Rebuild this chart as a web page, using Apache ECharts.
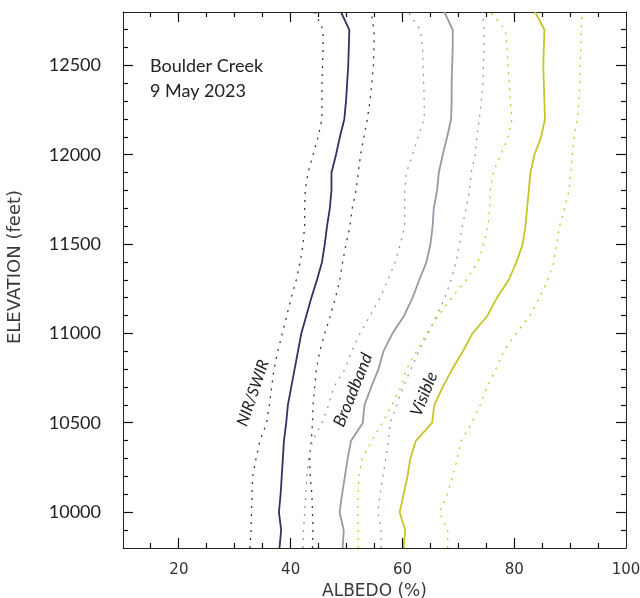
<!DOCTYPE html>
<html><head><meta charset="utf-8">
<script src="https://cdn.jsdelivr.net/npm/echarts@6/dist/echarts.min.js"></script>
<style>html,body{margin:0;padding:0;background:#fff}#c{width:640px;height:598px}</style>
</head><body><div id="c"></div>
<script>
// Elevation bands (feet), bottom to top
const elevations = [9800,9900,10000,10100,10200,10300,10400,10500,10600,10700,10800,10900,11000,11100,11200,11300,11400,11500,11600,11700,11800,11900,12000,12100,12200,12300,12400,12500,12600,12700,12800];
// NIR/SWIR albedo (%)
const nirMean = [38.0,38.3,37.9,38.2,38.4,38.6,38.8,39.2,39.5,40.1,40.7,41.3,41.9,42.8,43.7,44.7,45.6,46.1,46.5,47.0,47.3,47.3,48.1,48.8,49.6,49.9,50.1,50.3,50.4,50.5,49.0];
const nirLow  = [32.7,32.9,33.0,33.1,33.2,33.8,34.5,35.7,36.2,36.6,37.0,37.7,38.5,39.3,40.1,41.0,41.7,42.2,42.5,42.5,42.6,43.1,44.0,44.9,45.6,45.6,45.6,45.7,45.8,45.8,44.3];
const nirHigh = [43.9,44.0,43.9,43.8,43.5,43.4,43.7,43.9,44.0,44.3,44.6,45.2,46.1,47.1,48.0,48.8,49.3,49.9,50.6,51.0,51.7,52.1,52.5,53.1,53.7,54.2,54.5,54.8,54.9,54.9,54.4];
// Broadband albedo (%)
const bbMean = [49.3,49.5,48.75,49.2,49.7,50.2,50.8,52.9,53.2,54.4,55.7,56.6,58.2,60.3,61.8,63.0,64.3,65.0,65.4,65.6,66.2,66.5,67.2,68.0,68.7,68.8,68.8,68.9,69.0,69.0,67.5];
const bbLow  = [42.2,42.3,42.5,42.7,42.9,43.2,43.9,45.6,46.8,47.7,49.7,50.9,52.4,54.2,56.0,57.4,58.7,59.6,60.4,60.4,60.4,60.7,61.8,62.8,63.9,63.9,63.8,63.7,63.6,63.2,61.0];
const bbHigh = [56.2,56.2,55.6,56.0,56.5,57.0,57.5,57.8,59.0,60.1,61.5,62.9,64.6,66.1,67.6,68.7,69.6,70.2,70.7,71.4,72.0,72.3,73.0,73.3,73.75,74.1,74.4,74.5,74.6,74.6,74.3];
// Visible albedo (%)
const visMean = [60.2,60.5,59.5,60.2,60.9,61.4,62.4,65.3,65.7,67.2,68.9,70.8,72.5,75.2,76.9,79.0,80.4,81.5,82.0,82.3,82.6,82.9,83.6,84.8,85.5,85.4,85.3,85.2,85.3,85.4,83.75];
const visLow  = [52.1,52.1,52.0,52.1,52.2,52.8,54.5,56.4,58.1,59.7,60.7,62.5,64.3,66.4,68.8,71.4,73.5,74.5,75.3,75.6,75.7,76.2,77.6,78.9,79.6,79.3,79.1,78.9,78.7,78.4,75.7];
const visHigh = [68.1,68.1,66.6,68.0,69.0,69.8,70.5,72.4,73.9,75.1,76.7,78.1,80.3,82.8,84.5,86.0,87.1,87.6,88.1,89.0,89.8,90.1,90.4,90.7,91.3,91.6,91.7,91.8,91.9,92.0,92.1];
// Tick labels (major ticks)
const xLabelValues = [20,40,60,80,100];
const yLabelValues = [10000,10500,11000,11500,12000,12500];
// Minor tick values
const xMinorValues = [15,25,30,35,45,50,55,65,70,75,85,90,95];
const yMinorValues = elevations.filter(e => e > 9800 && e < 12800 && e % 500 !== 0);

const X_MIN = 10, X_MAX = 100, Y_MIN = 9800, Y_MAX = 12800;
const MAJOR_LEN = 10, MINOR_LEN = 5;

const C_NIR = '#3c2d63', C_BB = '#9a98a8', C_VIS = '#c6c62a';
const pair = arr => arr.map((v, i) => [v, elevations[i]]);
function line(data, color, dotted) {
  return {
    type: 'line', data: pair(data), symbol: 'none', xAxisIndex: 0, yAxisIndex: 0,
    lineStyle: dotted ? {color, width: 1.3, type: [2, 6]} : {color, width: 1.8},
    silent: true, z: dotted ? 2 : 3
  };
}

const texts = [
  {type: 'text', id: 't0', x: 15, y: 267, rotation: Math.PI / 2, style: {text: 'ELEVATION (feet)', font: '18px "DejaVu Sans"', fill: '#3a3a3a', align: 'center', verticalAlign: 'middle'}},
  {type: 'text', id: 't1', left: 150, top: 54, style: {text: 'Boulder Creek\n9 May 2023', font: '18px Lato', fill: '#222', lineHeight: 25}},
  {type: 'text', id: 't2', x: 253, y: 393, rotation: 71 * Math.PI / 180, style: {text: 'NIR/SWIR', font: 'italic 16px Lato', fill: '#222', align: 'center', verticalAlign: 'middle'}},
  {type: 'text', id: 't3', x: 353, y: 390, rotation: 68 * Math.PI / 180, style: {text: 'Broadband', font: 'italic 17px Lato', fill: '#222', align: 'center', verticalAlign: 'middle'}},
  {type: 'text', id: 't4', x: 424, y: 394, rotation: 68 * Math.PI / 180, style: {text: 'Visible', font: 'italic 17px Lato', fill: '#222', align: 'center', verticalAlign: 'middle'}}
];

const chart = echarts.init(document.getElementById('c'), null, {renderer: 'canvas'});
chart.setOption({
  animation: false,
  grid: {left: 123, top: 12, right: 14, bottom: 50, containLabel: false, outerBoundsMode: 'none'},
  xAxis: [
    {
      type: 'value', min: X_MIN, max: X_MAX, interval: 10, position: 'bottom',
      axisLine: {show: true, onZero: false, lineStyle: {color: '#222', width: 1}},
      axisTick: {show: false},
      axisLabel: {show: true, customValues: xLabelValues, margin: 15, color: '#333', fontFamily: 'DejaVu Sans', fontSize: 15},
      splitLine: {show: false},
      name: 'ALBEDO (%)', nameLocation: 'middle', nameGap: 34,
      nameTextStyle: {fontFamily: 'DejaVu Sans', fontSize: 17, color: '#3a3a3a'}
    },
    {
      type: 'value', min: X_MIN, max: X_MAX, position: 'top',
      axisLine: {show: true, onZero: false, lineStyle: {color: '#222', width: 1}},
      axisTick: {show: false}, axisLabel: {show: false}, splitLine: {show: false}
    }
  ],
  yAxis: [
    {
      type: 'value', min: Y_MIN, max: Y_MAX, interval: 100, position: 'left',
      axisLine: {show: true, onZero: false, lineStyle: {color: '#222', width: 1}},
      axisTick: {show: false},
      axisLabel: {show: true, customValues: yLabelValues, margin: 22, color: '#222', fontFamily: 'Lato', fontSize: 18, formatter: v => String(v)},
      splitLine: {show: false}
    },
    {
      type: 'value', min: Y_MIN, max: Y_MAX, position: 'right',
      axisLine: {show: true, onZero: false, lineStyle: {color: '#222', width: 1}},
      axisTick: {show: false}, axisLabel: {show: false}, splitLine: {show: false}
    }
  ],
  series: [
    line(nirLow, C_NIR, true), line(nirHigh, C_NIR, true),
    line(bbLow, C_BB, true), line(bbHigh, C_BB, true),
    line(visLow, C_VIS, true), line(visHigh, C_VIS, true),
    line(nirMean, C_NIR, false), line(bbMean, C_BB, false), line(visMean, C_VIS, false)
  ],
  graphic: texts
});

// Inward frame ticks on all four sides, positioned through the chart's own scales
const snap = p => Math.round(p - 0.5) + 0.5;
const toPx = (x, y) => chart.convertToPixel({xAxisIndex: 0, yAxisIndex: 0}, [x, y]);
const tickStyle = {stroke: '#111', lineWidth: 1.2};
const ticks = [];
const xTicks = xLabelValues.filter(v => v < X_MAX).map(v => [v, MAJOR_LEN]).concat(xMinorValues.map(v => [v, MINOR_LEN]));
const yTicks = yLabelValues.map(v => [v, MAJOR_LEN]).concat(yMinorValues.map(v => [v, MINOR_LEN]));
xTicks.forEach(([v, len], i) => {
  const b = toPx(v, Y_MIN), t = toPx(v, Y_MAX), x = snap(b[0]);
  ticks.push({type: 'line', id: 'xb' + i, silent: true, z: 50, shape: {x1: x, y1: b[1], x2: x, y2: b[1] - len}, style: tickStyle});
  ticks.push({type: 'line', id: 'xt' + i, silent: true, z: 50, shape: {x1: x, y1: t[1], x2: x, y2: t[1] + len}, style: tickStyle});
});
yTicks.forEach(([v, len], i) => {
  const l = toPx(X_MIN, v), r = toPx(X_MAX, v), y = snap(l[1]);
  ticks.push({type: 'line', id: 'yl' + i, silent: true, z: 50, shape: {x1: l[0], y1: y, x2: l[0] + len, y2: y}, style: tickStyle});
  ticks.push({type: 'line', id: 'yr' + i, silent: true, z: 50, shape: {x1: r[0], y1: y, x2: r[0] - len, y2: y}, style: tickStyle});
});
chart.setOption({graphic: texts.concat(ticks)});
</script></body></html>
